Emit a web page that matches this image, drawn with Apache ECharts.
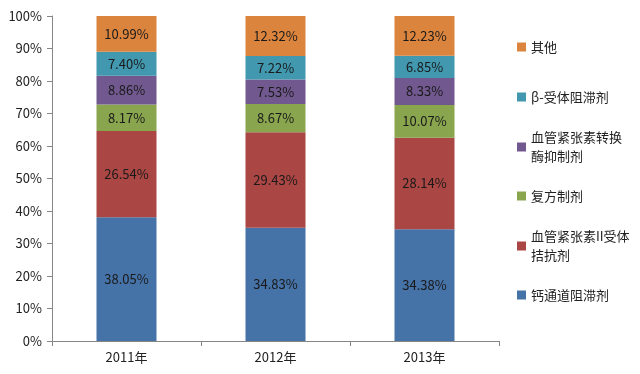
<!DOCTYPE html>
<html><head><meta charset="utf-8">
<script src="https://cdn.jsdelivr.net/npm/echarts@6/dist/echarts.min.js"></script>
<style>html,body{margin:0;padding:0;background:#fff}#c{width:640px;height:374px}</style>
</head><body><div id="c"></div>
<script>
const categories = ['2011年', '2012年', '2013年'];
const seriesNames = ['钙通道阻滞剂', '血管紧张素II受体拮抗剂', '复方制剂', '血管紧张素转换酶抑制剂', 'β-受体阻滞剂', '其他'];
const legendLabels = ['钙通道阻滞剂', '血管紧张素II受体\n拮抗剂', '复方制剂', '血管紧张素转换\n酶抑制剂', 'β-受体阻滞剂', '其他'];
const calcium = [38.05, 34.83, 34.38];
const arb = [26.54, 29.43, 28.14];
const compound = [8.17, 8.67, 10.07];
const acei = [8.86, 7.53, 8.33];
const beta = [7.40, 7.22, 6.85];
const other = [10.99, 12.32, 12.23];
const yTicks = [0, 10, 20, 30, 40, 50, 60, 70, 80, 90, 100];
const values = [calcium, arb, compound, acei, beta, other];
const colors = ['#4572A7', '#AA4643', '#89A54E', '#71588F', '#4198AF', '#DB843D'];
const legendIconY = [295, 246, 196, 147, 97, 47];
const font = '"Noto Sans CJK SC", "DejaVu Sans", sans-serif';

const chart = echarts.init(document.getElementById('c'));
chart.setOption({
  animation: false,
  textStyle: { fontFamily: font },
  grid: { left: 52, right: 141, top: 16, bottom: 33 },
  legend: seriesNames.map((n, i) => {
    const two = legendLabels[i].includes('\n');
    return {
      data: [n], left: 517, top: legendIconY[i] - (two ? 28.5 : 9.5), padding: 0,
      itemWidth: 9, itemHeight: 9, itemGap: 4,
      icon: 'rect', formatter: () => legendLabels[i],
      textStyle: { fontSize: 13, color: '#222', fontFamily: font, lineHeight: 19,
        padding: two ? [19, 0, 0, 0] : 0 }
    };
  }),
  xAxis: {
    type: 'category', data: categories,
    axisLine: { lineStyle: { color: '#868686' } },
    axisTick: { show: true, length: 5, lineStyle: { color: '#868686' } },
    axisLabel: { fontSize: 13, color: '#222', margin: 10, fontFamily: font }
  },
  yAxis: {
    type: 'value', min: 0, max: 100, interval: 10,
    axisLine: { show: true, lineStyle: { color: '#868686' } },
    axisTick: { show: true, length: 5, inside: false, lineStyle: { color: '#868686' } },
    splitLine: { show: false },
    axisLabel: { fontSize: 13, color: '#222', margin: 10, fontFamily: font,
      formatter: v => yTicks.includes(v) ? v + '%' : '' }
  },
  series: seriesNames.map((n, i) => ({
    name: n, type: 'bar', stack: 'total', barWidth: 60,
    data: values[i],
    itemStyle: { color: colors[i] },
    label: { show: true, position: 'inside', color: '#1a1a1a', fontSize: 13, fontFamily: font,
      formatter: p => p.value.toFixed(2) + '%' }
  }))
});
</script></body></html>
